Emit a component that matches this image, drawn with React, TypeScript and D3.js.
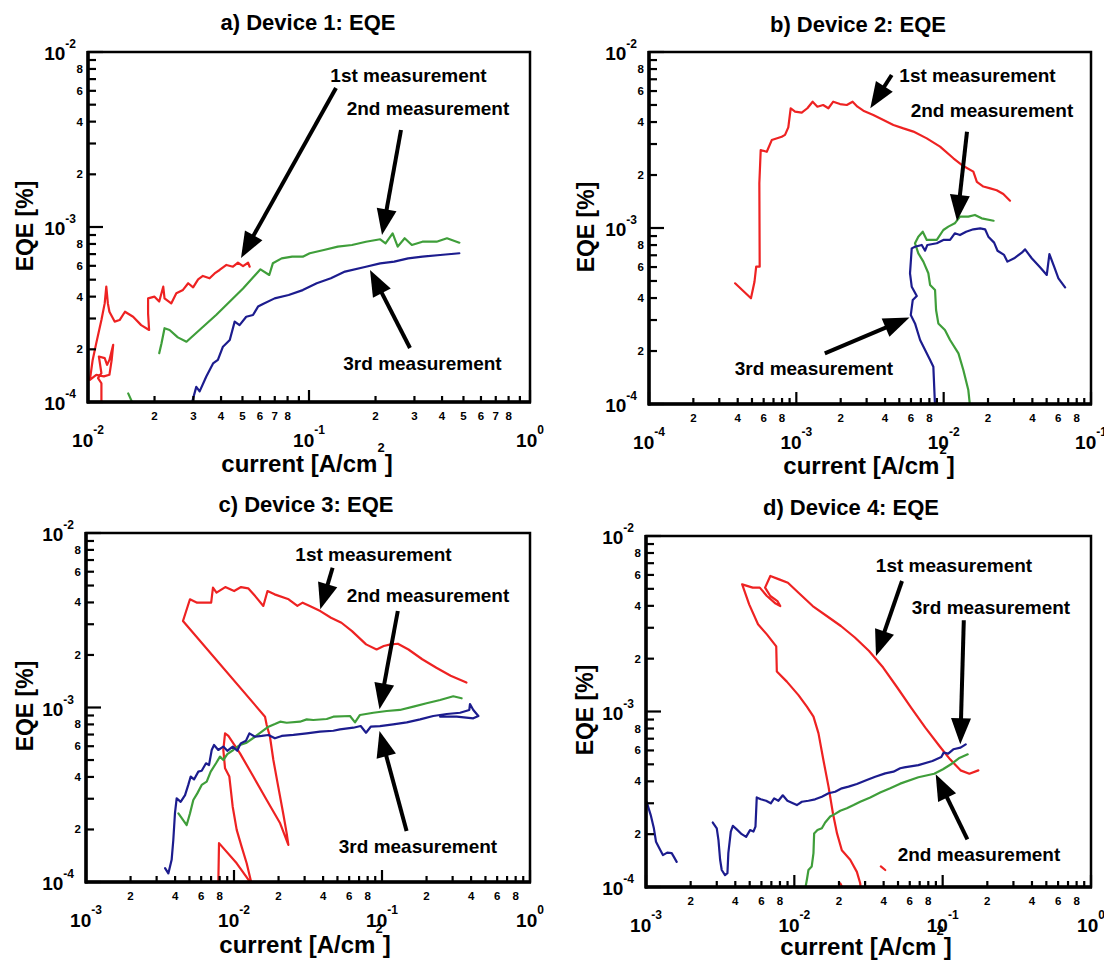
import React from 'react';
import * as d3 from 'd3';

type Pt = [number, number] | null;

// ---------- DATA (current [A/cm^2], EQE [%]) ----------
const dev1Run1: Pt[] = [
  [0.0115, 0.95e-4], [0.0115, 1.28e-4], [0.0111, 1.37e-4], [0.0115, 1.46e-4], [0.0112, 1.82e-4], [0.0119, 1.78e-4],
  [0.0122, 1.63e-4], [0.0125, 1.74e-4], [0.0130, 2.12e-4], [0.0128, 1.74e-4], [0.0125, 1.43e-4], [0.0118, 1.40e-4],
  [0.0109, 1.43e-4], [0.0102, 1.34e-4], [0.0105, 1.74e-4], [0.0109, 2.17e-4], [0.0115, 2.94e-4], [0.0119, 3.66e-4],
  [0.0121, 4.56e-4], [0.0123, 3.66e-4], [0.0125, 3.28e-4], [0.0132, 2.88e-4], [0.0139, 2.94e-4], [0.0147, 3.28e-4],
  [0.0160, 3.07e-4], [0.0174, 2.75e-4], [0.0189, 2.58e-4], [0.0187, 3.21e-4], [0.0187, 3.91e-4], [0.0200, 4.0e-4],
  [0.0210, 3.75e-4], [0.0219, 4.56e-4], [0.0222, 3.91e-4], [0.0238, 3.66e-4], [0.0251, 4.18e-4], [0.0269, 4.37e-4],
  [0.0284, 4.77e-4], [0.0299, 4.52e-4], [0.0315, 5.02e-4], [0.0331, 5.25e-4], [0.0355, 5.09e-4], [0.0374, 5.43e-4],
  [0.0394, 5.68e-4], [0.0423, 6.07e-4], [0.0453, 5.93e-4], [0.0477, 6.25e-4], [0.0503, 5.98e-4], [0.0530, 6.25e-4],
  [0.0539, 5.93e-4],
];
const dev1Run2: Pt[] = [
  [0.0152, 1.12e-4], [0.0160, 0.97e-4], null,
  [0.0210, 1.90e-4], [0.0215, 2.16e-4], [0.0222, 2.64e-4], [0.0234, 2.58e-4], [0.0255, 2.34e-4], [0.0279, 2.21e-4],
  [0.0381, 3.15e-4], [0.0503, 4.45e-4], [0.0603, 5.73e-4], [0.0661, 5.32e-4], [0.0686, 6.20e-4], [0.0752, 6.62e-4],
  [0.0839, 6.77e-4], [0.0937, 6.77e-4], [0.1008, 7.08e-4], [0.1167, 7.39e-4], [0.135, 7.72e-4], [0.1565, 7.89e-4],
  [0.181, 8.24e-4], [0.210, 8.51e-4], [0.222, 8.07e-4], [0.239, 9.2e-4], [0.252, 7.72e-4], [0.271, 8.62e-4],
  [0.292, 7.89e-4], [0.326, 8.24e-4], [0.378, 8.24e-4], [0.421, 8.62e-4], [0.479, 8.13e-4],
];
const dev1Run3: Pt[] = [
  [0.0294, 0.97e-4], [0.0309, 1.22e-4], [0.0320, 1.15e-4], [0.0343, 1.40e-4], [0.0368, 1.66e-4], [0.0387, 1.74e-4],
  [0.0408, 2.07e-4], [0.0438, 2.26e-4], [0.0461, 2.88e-4], [0.0485, 2.75e-4], [0.0520, 3.07e-4], [0.0558, 3.14e-4],
  [0.0588, 3.51e-4], [0.0619, 3.63e-4], [0.0699, 3.91e-4], [0.0809, 4.09e-4], [0.0937, 4.36e-4], [0.1084, 4.77e-4],
  [0.1256, 5.09e-4], [0.1455, 5.56e-4], [0.181, 5.93e-4], [0.210, 6.20e-4], [0.243, 6.34e-4], [0.281, 6.62e-4],
  [0.326, 6.77e-4], [0.392, 6.92e-4], [0.479, 7.08e-4],
];

const dev2Run1: Pt[] = [
  [3.84e-4, 4.85e-4], [4.92e-4, 3.99e-4], [5.20e-4, 4.95e-4], [5.34e-4, 6.03e-4], [5.64e-4, 6.03e-4], [5.61e-4, 1.795e-3],
  [5.73e-4, 2.77e-3], [6.30e-4, 2.71e-3], [6.81e-4, 3.16e-3], [7.96e-4, 3.30e-3], [8.38e-4, 3.38e-3], [8.82e-4, 3.73e-3],
  [9.16e-4, 4.79e-3], [9.80e-4, 4.58e-3], [1.088e-3, 4.52e-3], [1.188e-3, 4.79e-3], [1.29e-3, 5.22e-3], [1.39e-3, 4.89e-3],
  [1.52e-3, 5.00e-3], [1.65e-3, 4.79e-3], [1.78e-3, 5.22e-3], [1.98e-3, 5.06e-3], [2.20e-3, 5.00e-3], [2.41e-3, 5.22e-3],
  [2.60e-3, 4.89e-3], [2.85e-3, 4.64e-3], [3.33e-3, 4.39e-3], [3.90e-3, 4.11e-3], [4.56e-3, 3.85e-3], [5.33e-3, 3.68e-3],
  [6.23e-3, 3.53e-3], [7.68e-3, 3.23e-3], [9.45e-3, 2.90e-3], [1.164e-2, 2.49e-3], [1.36e-2, 2.25e-3], [1.59e-2, 2.09e-3],
  [1.68e-2, 1.83e-3], [1.86e-2, 1.72e-3], [2.07e-2, 1.68e-3], [2.29e-2, 1.64e-3], [2.54e-2, 1.56e-3], [2.82e-2, 1.43e-3],
];
const dev2Run2: Pt[] = [
  [1.51e-2, 0.97e-4], [1.47e-2, 1.20e-4], [1.36e-2, 1.56e-4], [1.26e-2, 1.94e-4], [1.105e-2, 2.31e-4], [1.02e-2, 2.63e-4],
  [9.20e-3, 2.87e-4], [8.88e-3, 3.42e-4], [8.74e-3, 4.44e-4], [8.09e-3, 4.74e-4], [7.87e-3, 5.53e-4], [7.28e-3, 6.44e-4],
  [6.73e-3, 7.18e-4], [6.39e-3, 8.19e-4], [6.73e-3, 8.93e-4], [7.21e-3, 9.53e-4], [7.68e-3, 8.55e-4], [8.98e-3, 8.55e-4],
  [9.95e-3, 9.74e-4], [1.076e-2, 1.018e-3], [1.19e-2, 1.063e-3], [1.29e-2, 1.16e-3], [1.47e-2, 1.16e-3], [1.63e-2, 1.186e-3],
  [1.81e-2, 1.135e-3], [2.18e-2, 1.10e-3],
];
const dev2Run3: Pt[] = [
  [8.74e-3, 0.97e-4], [8.51e-3, 1.63e-4], [8.09e-3, 1.78e-4], [6.92e-3, 2.31e-4], [6.39e-3, 2.87e-4], [5.98e-3, 3.20e-4],
  [6.17e-3, 3.90e-4], [6.57e-3, 4.11e-4], [6.07e-3, 4.64e-4], [5.91e-3, 5.53e-4], [6.07e-3, 7.66e-4], [6.39e-3, 7.83e-4],
  [7.10e-3, 8.01e-4], [7.48e-3, 7.43e-4], [7.75e-3, 8.01e-4], [8.98e-3, 8.19e-4], [9.95e-3, 8.55e-4], [1.105e-2, 8.55e-4],
  [1.19e-2, 9.33e-4], [1.29e-2, 9.12e-4], [1.42e-2, 9.53e-4], [1.59e-2, 9.83e-4], [1.77e-2, 9.96e-4], [1.91e-2, 9.83e-4],
  [2.01e-2, 8.93e-4], [2.20e-2, 8.26e-4], [2.32e-2, 7.43e-4], [2.57e-2, 7.03e-4], [2.71e-2, 6.44e-4], [3.01e-2, 6.73e-4],
  [3.39e-2, 7.24e-4], [3.57e-2, 7.56e-4], [3.96e-2, 6.73e-4], [4.51e-2, 5.98e-4], [5.01e-2, 5.41e-4], [5.22e-2, 7.11e-4],
  [5.62e-2, 6.03e-4], [6.01e-2, 5.18e-4], [6.67e-2, 4.60e-4],
];

const dev3Run1: Pt[] = [
  [7.83e-3, 0.95e-4], [7.92e-3, 1.67e-4], [1.043e-2, 1.28e-4], [1.317e-2, 0.97e-4], [1.218e-2, 1.28e-4], [1.127e-2, 1.59e-4],
  [1.043e-2, 1.99e-4], [9.80e-3, 2.70e-4], [9.30e-3, 4.02e-4], [8.70e-3, 4.48e-4], [8.47e-3, 5.71e-4], [8.70e-3, 7.11e-4],
  [9.16e-3, 6.87e-4], [1.098e-2, 5.46e-4], [1.351e-2, 4.02e-4], [1.663e-2, 2.95e-4], [2.05e-2, 2.17e-4], [2.33e-2, 1.63e-4],
  [2.27e-2, 1.90e-4], [2.15e-2, 2.47e-4], [1.99e-2, 3.52e-4], [1.845e-2, 5.00e-4], [1.75e-2, 6.80e-4], [1.663e-2, 7.94e-4],
  [1.62e-2, 8.86e-4], [4.52e-3, 3.13e-3], [5.04e-3, 4.17e-3], [5.63e-3, 3.99e-3], [7.01e-3, 3.99e-3], [7.21e-3, 4.86e-3],
  [7.62e-3, 4.55e-3], [8.73e-3, 4.90e-3], [1.002e-2, 4.65e-3], [1.116e-2, 4.90e-3], [1.247e-2, 4.82e-3], [1.39e-2, 4.35e-3],
  [1.578e-2, 3.82e-3], [1.684e-2, 4.65e-3], [1.88e-2, 4.45e-3], [2.34e-2, 4.17e-3], [2.68e-2, 3.82e-3], [2.91e-2, 3.99e-3],
  [3.25e-2, 3.82e-3], [3.83e-2, 3.57e-3], [4.52e-2, 3.27e-3], [5.32e-2, 3.06e-3], [6.27e-2, 2.74e-3], [7.81e-2, 2.30e-3],
  [9.19e-2, 2.15e-3], [1.027e-1, 2.25e-3], [1.145e-1, 2.30e-3], [1.28e-1, 2.32e-3], [1.51e-1, 2.15e-3], [1.87e-1, 1.89e-3],
  [2.33e-1, 1.69e-3], [2.91e-1, 1.52e-3], [3.72e-1, 1.39e-3],
];
const dev3Run2: Pt[] = [
  [4.21e-3, 2.47e-4], [4.79e-3, 2.12e-4], [5.04e-3, 2.47e-4], [5.31e-3, 2.95e-4], [5.65e-3, 3.22e-4], [6.05e-3, 3.60e-4],
  [6.54e-3, 3.76e-4], [6.96e-3, 4.29e-4], [7.56e-3, 4.79e-4], [8.04e-3, 5.23e-4], [8.47e-3, 5.00e-4], [9.01e-3, 5.41e-4],
  [9.89e-3, 5.71e-4], [1.098e-2, 6.10e-4], [1.218e-2, 6.29e-4], [1.387e-2, 6.80e-4], [1.54e-2, 7.27e-4], [1.71e-2, 7.76e-4],
  [1.89e-2, 8.04e-4], [2.05e-2, 8.29e-4], [2.27e-2, 8.18e-4], [2.79e-2, 8.29e-4], [3.10e-2, 8.55e-4], [3.43e-2, 8.48e-4],
  [4.23e-2, 8.59e-4], [4.69e-2, 8.86e-4], [6.08e-2, 8.94e-4], [6.57e-2, 8.22e-4], [7.10e-2, 9.06e-4], [8.74e-2, 9.33e-4],
  [1.076e-1, 9.55e-4], [1.32e-1, 9.68e-4], [1.63e-1, 1.011e-3], [2.00e-1, 1.057e-3], [2.47e-1, 1.104e-3], [3.03e-1, 1.16e-3],
  [3.45e-1, 1.129e-3],
];
const dev3Run3: Pt[] = [
  [3.42e-3, 1.20e-4], [3.60e-3, 1.12e-4], [3.79e-3, 1.34e-4], [3.89e-3, 1.74e-4], [3.99e-3, 2.47e-4], [4.10e-3, 3.02e-4],
  [4.36e-3, 2.88e-4], [4.67e-3, 3.15e-4], [4.91e-3, 3.60e-4], [5.10e-3, 4.02e-4], [5.37e-3, 3.87e-4], [5.74e-3, 4.29e-4],
  [6.05e-3, 4.34e-4], [6.47e-3, 4.79e-4], [6.78e-3, 4.68e-4], [7.07e-3, 5.71e-4], [7.33e-3, 6.10e-4], [7.83e-3, 5.71e-4],
  [8.47e-3, 5.97e-4], [9.01e-3, 5.65e-4], [9.80e-3, 5.97e-4], [1.052e-2, 5.65e-4], [1.11e-2, 6.23e-4], [1.205e-2, 6.45e-4],
  [1.27e-2, 7.11e-4], [1.387e-2, 6.80e-4], [1.54e-2, 6.87e-4], [1.71e-2, 6.96e-4], [1.89e-2, 6.66e-4], [2.10e-2, 6.87e-4],
  [2.52e-2, 6.96e-4], [3.10e-2, 7.11e-4], [3.81e-2, 7.27e-4], [4.69e-2, 7.36e-4], [5.20e-2, 7.50e-4], [6.40e-2, 7.66e-4],
  [7.18e-2, 7.83e-4], [7.80e-2, 7.17e-4], [8.39e-2, 7.76e-4], [9.69e-2, 7.83e-4], [1.19e-1, 8.01e-4], [1.47e-1, 8.22e-4],
  [1.81e-1, 8.55e-4], [2.22e-1, 8.94e-4], [2.74e-1, 9.18e-4], [3.37e-1, 9.33e-4], [3.89e-1, 9.68e-4], [3.93e-1, 1.047e-3],
  [4.14e-1, 9.68e-4], [4.48e-1, 8.94e-4], [4.14e-1, 8.67e-4], [3.20e-1, 8.86e-4], [2.47e-1, 8.86e-4],
];

const dev4Run1: Pt[] = [
  [2.81e-2, 0.95e-4], [2.78e-2, 1.05e-4], [2.64e-2, 1.22e-4], [2.38e-2, 1.43e-4], [2.09e-2, 1.62e-4], [1.94e-2, 2.02e-4],
  [1.82e-2, 2.63e-4], [1.70e-2, 3.73e-4], [1.57e-2, 5.29e-4], [1.455e-2, 7.51e-4], [1.346e-2, 9.35e-4], [1.215e-2, 1.065e-3],
  [1.066e-2, 1.24e-3], [8.90e-3, 1.48e-3], [7.62e-3, 1.69e-3], [7.55e-3, 2.35e-3], [6.53e-3, 2.75e-3], [5.69e-3, 3.14e-3],
  [4.96e-3, 4.08e-3], [4.45e-3, 5.30e-3], [5.24e-3, 5.08e-3], [5.85e-3, 5.08e-3], [6.53e-3, 4.55e-3], [7.48e-3, 4.12e-3],
  [8.04e-3, 3.99e-3], [7.69e-3, 4.26e-3], [6.89e-3, 4.55e-3], [6.35e-3, 5.08e-3], [6.89e-3, 5.92e-3], [7.90e-3, 5.66e-3],
  [9.05e-3, 5.42e-3], [1.067e-2, 4.75e-3], [1.33e-2, 3.99e-3], [1.654e-2, 3.50e-3], [2.06e-2, 3.07e-3], [2.56e-2, 2.64e-3],
  [3.19e-2, 2.21e-3], [3.97e-2, 1.78e-3], [4.94e-2, 1.37e-3], [6.14e-2, 1.05e-3], [7.64e-2, 8.09e-4], [9.51e-2, 6.36e-4],
  [1.122e-1, 5.34e-4], [1.32e-1, 4.62e-4], [1.514e-1, 4.42e-4], [1.74e-1, 4.62e-4], null,
  [3.83e-2, 1.31e-4], [4.10e-2, 1.25e-4], null,
  [2.04e-2, 1.05e-4], [2.14e-2, 0.97e-4],
];
const dev4Run2: Pt[] = [
  [1.18e-2, 0.96e-4], [1.215e-2, 1.10e-4], [1.245e-2, 1.25e-4], [1.31e-2, 1.31e-4], [1.346e-2, 1.56e-4], [1.36e-2, 2.02e-4],
  [1.432e-2, 2.11e-4], [1.533e-2, 2.16e-4], [1.614e-2, 2.33e-4], [1.745e-2, 2.52e-4], [1.885e-2, 2.61e-4], [2.04e-2, 2.72e-4],
  [2.26e-2, 2.81e-4], [2.51e-2, 2.93e-4], [2.78e-2, 3.06e-4], [3.25e-2, 3.24e-4], [3.79e-2, 3.45e-4], [4.43e-2, 3.65e-4],
  [5.17e-2, 3.88e-4], [6.86e-2, 4.22e-4], [8.77e-2, 4.42e-4], [1.005e-1, 4.69e-4], [1.152e-1, 5.04e-4], [1.285e-1, 5.41e-4],
  [1.475e-1, 5.70e-4],
];
const dev4Run3: Pt[] = [
  [1.01e-3, 3.06e-4], [1.076e-3, 2.57e-4], [1.13e-3, 2.16e-4], [1.168e-3, 1.81e-4], [1.23e-3, 1.66e-4], [1.30e-3, 1.52e-4],
  [1.39e-3, 1.57e-4], [1.49e-3, 1.56e-4], [1.545e-3, 1.48e-4], [1.61e-3, 1.39e-4], null,
  [2.82e-3, 2.33e-4], [3.00e-3, 2.16e-4], [3.08e-3, 1.85e-4], [3.16e-3, 1.43e-4], [3.24e-3, 1.25e-4], [3.41e-3, 1.17e-4],
  [3.54e-3, 1.20e-4], [3.59e-3, 1.56e-4], [3.73e-3, 2.07e-4], [3.85e-3, 2.23e-4], [4.09e-3, 2.13e-4], [4.42e-3, 2.00e-4],
  [4.73e-3, 1.93e-4], [5.03e-3, 2.11e-4], [5.30e-3, 2.07e-4], [5.47e-3, 2.21e-4], [5.58e-3, 3.24e-4], [5.94e-3, 3.16e-4],
  [6.45e-3, 3.10e-4], [6.94e-3, 3.00e-4], [7.31e-3, 3.20e-4], [7.81e-3, 3.10e-4], [8.36e-3, 3.33e-4], [8.98e-3, 3.10e-4],
  [9.62e-3, 3.02e-4], [1.04e-2, 2.93e-4], [1.124e-2, 3.06e-4], [1.245e-2, 3.10e-4], [1.38e-2, 3.16e-4], [1.533e-2, 3.27e-4],
  [1.70e-2, 3.42e-4], [1.885e-2, 3.49e-4], [2.09e-2, 3.65e-4], [2.32e-2, 3.73e-4], [2.64e-2, 3.86e-4], [3.08e-2, 4.07e-4],
  [3.51e-2, 4.25e-4], [4.10e-2, 4.44e-4], [4.66e-2, 4.54e-4], [5.17e-2, 4.75e-4], [5.51e-2, 4.80e-4], [6.86e-2, 4.95e-4],
  [8.53e-2, 5.22e-4], [9.79e-2, 5.50e-4], [1.016e-1, 5.83e-4], [1.09e-1, 5.75e-4], [1.18e-1, 6.09e-4], [1.32e-1, 6.22e-4],
  [1.43e-1, 6.50e-4],
];

const panelTitles = ['a) Device 1: EQE', 'b) Device 2: EQE', 'c) Device 3: EQE', 'd) Device 4: EQE'];
const xDomains: [number, number][] = [[1e-2, 1], [1e-4, 1e-1], [1e-3, 1], [1e-3, 1]];
const yDomain: [number, number] = [1e-4, 1e-2];
const xMinorLabelSets = [[2, 3, 4, 5, 6, 7, 8], [2, 4, 6, 8], [2, 4, 6, 8], [2, 4, 6, 8]];
const yMinorLabels = [2, 4, 6, 8];
const measurementLabels = ['1st measurement', '2nd measurement', '3rd measurement'];
const yAxisTitle = 'EQE [%]';
const seriesByPanel: Pt[][][] = [
  [dev1Run1, dev1Run2, dev1Run3],
  [dev2Run1, dev2Run2, dev2Run3],
  [dev3Run1, dev3Run2, dev3Run3],
  [dev4Run1, dev4Run2, dev4Run3],
];

// ---------- LAYOUT / STYLE ----------
const runColors = ['#ee2222', '#3f9e3a', '#1c1c8e'];
const FONT = '"Liberation Sans", Arial, Helvetica, sans-serif';

type Note = { label: number; x: number; y: number };
type Layout = {
  left: number; top: number; right: number; bottom: number;
  titleX: number; titleY: number; yLabelX: number; yLabelY: number; xLabelX: number; xLabelY: number;
  notes: Note[]; arrows: [number, number, number, number][];
};

const layouts: Layout[] = [
  {
    left: 88, top: 52, right: 530, bottom: 402, titleX: 308, titleY: 30, yLabelX: 25, yLabelY: 226, xLabelX: 307, xLabelY: 472,
    notes: [{ label: 0, x: 320.5, y: 30 }, { label: 1, x: 340, y: 63 }, { label: 2, x: 334.5, y: 318 }],
    arrows: [[248, 36, 153, 206], [313, 78, 294, 183], [322, 296, 282, 218]],
  },
  {
    left: 649, top: 52, right: 1091, bottom: 404, titleX: 858, titleY: 32, yLabelX: 586, yLabelY: 227, xLabelX: 869, xLabelY: 474,
    notes: [{ label: 0, x: 328.5, y: 30 }, { label: 1, x: 343, y: 65 }, { label: 2, x: 165, y: 323 }],
    arrows: [[242.7, 23, 221.3, 56.3], [318, 79.7, 308, 169], [175.8, 301.3, 260.5, 265.5]],
  },
  {
    left: 86, top: 533, right: 530, bottom: 882, titleX: 306, titleY: 512, yLabelX: 25, yLabelY: 706, xLabelX: 305, xLabelY: 953,
    notes: [{ label: 0, x: 287.5, y: 28 }, { label: 1, x: 342, y: 68.5 }, { label: 2, x: 332, y: 319.5 }],
    arrows: [[246.6, 34.7, 234.3, 76.3], [311.8, 78, 293.5, 176.3], [320.6, 298, 293.5, 198]],
  },
  {
    left: 646, top: 536, right: 1091, bottom: 887, titleX: 851, titleY: 515, yLabelX: 585, yLabelY: 710, xLabelX: 866, xLabelY: 955,
    notes: [{ label: 0, x: 308, y: 36 }, { label: 2, x: 345, y: 77.5 }, { label: 1, x: 333, y: 325 }],
    arrows: [[256, 45, 230, 120], [317.8, 84.3, 314.3, 208.3], [321.4, 303.3, 289.7, 238.3]],
  },
];

function decadeTicks(domain: [number, number]) {
  const lo = Math.round(Math.log10(domain[0]));
  const hi = Math.round(Math.log10(domain[1]));
  const out: { v: number; m: number; e: number }[] = [];
  for (let e = lo; e < hi; e++) for (let m = 1; m <= 9; m++) out.push({ v: m * Math.pow(10, e), m, e });
  out.push({ v: Math.pow(10, hi), m: 1, e: hi });
  return out;
}

function Arrow({ x1, y1, x2, y2 }: { x1: number; y1: number; x2: number; y2: number }) {
  const dx = x2 - x1, dy = y2 - y1;
  const len = Math.hypot(dx, dy);
  const ux = dx / len, uy = dy / len;
  const H = 26, W = 10;
  const bx = x2 - ux * H, by = y2 - uy * H;
  const px = -uy, py = ux;
  return (
    <g>
      <line x1={x1} y1={y1} x2={x2 - ux * H * 0.7} y2={y2 - uy * H * 0.7} stroke="#000" strokeWidth={4} />
      <polygon points={`${x2},${y2} ${bx + px * W},${by + py * W} ${bx - px * W},${by - py * W}`} fill="#000" />
    </g>
  );
}

function Panel({ idx }: { idx: number }) {
  const L = layouts[idx];
  const xs = d3.scaleLog().domain(xDomains[idx]).range([L.left, L.right]);
  const ys = d3.scaleLog().domain(yDomain).range([L.bottom, L.top]);
  const line = d3.line<Pt>()
    .defined((d) => d != null)
    .x((d) => xs((d as [number, number])[0]))
    .y((d) => ys((d as [number, number])[1]));
  const xt = decadeTicks(xDomains[idx]);
  const yt = decadeTicks(yDomain);
  const clipId = `clip-${idx}`;
  const minorX = xMinorLabelSets[idx];
  return (
    <g>
      <defs>
        <clipPath id={clipId}>
          <rect x={L.left} y={L.top} width={L.right - L.left} height={L.bottom - L.top} />
        </clipPath>
      </defs>
      <text x={L.titleX} y={L.titleY} textAnchor="middle" fontSize={22} fontWeight="bold" fontFamily={FONT}>
        {panelTitles[idx]}
      </text>
      {/* data */}
      <g clipPath={`url(#${clipId})`}>
        {seriesByPanel[idx].map((s, i) => (
          <path key={i} d={line(s) || ''} fill="none" stroke={runColors[i]} strokeWidth={2.2}
            strokeLinejoin="round" strokeLinecap="round" />
        ))}
      </g>
      {/* frame */}
      <rect x={L.left} y={L.top} width={L.right - L.left} height={L.bottom - L.top} fill="none" stroke="#000" strokeWidth={2.5} />
      <line x1={L.left} y1={L.top - 1} x2={L.left} y2={L.bottom + 1.5} stroke="#000" strokeWidth={3.5} />
      <line x1={L.left - 1} y1={L.bottom} x2={L.right + 1} y2={L.bottom} stroke="#000" strokeWidth={3.5} />
      {/* y ticks */}
      {yt.map((t, i) => {
        const y = ys(t.v);
        const major = t.m === 1;
        return (
          <g key={'y' + i}>
            <line x1={L.left} x2={L.left + (major ? 15 : 8)} y1={y} y2={y} stroke="#000" strokeWidth={2.2} />
            {major ? (
              <text x={L.left - 12} y={y + 8} textAnchor="end" fontSize={19} fontWeight="bold" fontFamily={FONT}>
                10<tspan dy={-12} fontSize={12}>{String(t.e)}</tspan>
              </text>
            ) : yMinorLabels.includes(t.m) ? (
              <text x={L.left - 5} y={y} textAnchor="end" dominantBaseline="central" fontSize={11.5} fontWeight="bold" fontFamily={FONT}>
                {t.m}
              </text>
            ) : null}
          </g>
        );
      })}
      {/* x ticks */}
      {xt.map((t, i) => {
        const x = xs(t.v);
        const major = t.m === 1;
        return (
          <g key={'x' + i}>
            <line x1={x} x2={x} y1={L.bottom} y2={L.bottom - (major ? 12 : 6)} stroke="#000" strokeWidth={2.2} />
            {major ? (
              <text x={x} y={L.bottom + 45} textAnchor="middle" fontSize={19} fontWeight="bold" fontFamily={FONT}>
                10<tspan dy={-13} fontSize={12}>{String(t.e)}</tspan>
              </text>
            ) : minorX.includes(t.m) ? (
              <text x={x} y={L.bottom + 18} textAnchor="middle" fontSize={11.5} fontWeight="bold" fontFamily={FONT}>
                {t.m}
              </text>
            ) : null}
          </g>
        );
      })}
      {/* axis titles */}
      <text transform={`translate(${L.yLabelX},${L.yLabelY}) rotate(-90)`} textAnchor="middle" dominantBaseline="central"
        fontSize={23} fontWeight="bold" fontFamily={FONT}>{yAxisTitle}</text>
      <text x={L.xLabelX} y={L.xLabelY} textAnchor="middle" fontSize={24} fontWeight="bold" fontFamily={FONT}>
        current [A/cm<tspan dy={-20} fontSize={13}>2</tspan><tspan dy={20}>]</tspan>
      </text>
      {/* annotations */}
      {L.notes.map((n, i) => (
        <text key={'n' + i} x={L.left + n.x} y={L.top + n.y} textAnchor="middle" fontSize={19} fontWeight="bold" fontFamily={FONT}>
          {measurementLabels[n.label]}
        </text>
      ))}
      {L.arrows.map((a, i) => (
        <Arrow key={'a' + i} x1={L.left + a[0]} y1={L.top + a[1]} x2={L.left + a[2]} y2={L.top + a[3]} />
      ))}
    </g>
  );
}

export default function App() {
  return (
    <svg width={1104} height={962} viewBox="0 0 1104 962"
      style={{ position: 'absolute', left: 0, top: 0, background: '#fff', display: 'block' }}>
      <rect x={0} y={0} width={1104} height={962} fill="#fff" />
      {[0, 1, 2, 3].map((i) => <Panel key={i} idx={i} />)}
    </svg>
  );
}
